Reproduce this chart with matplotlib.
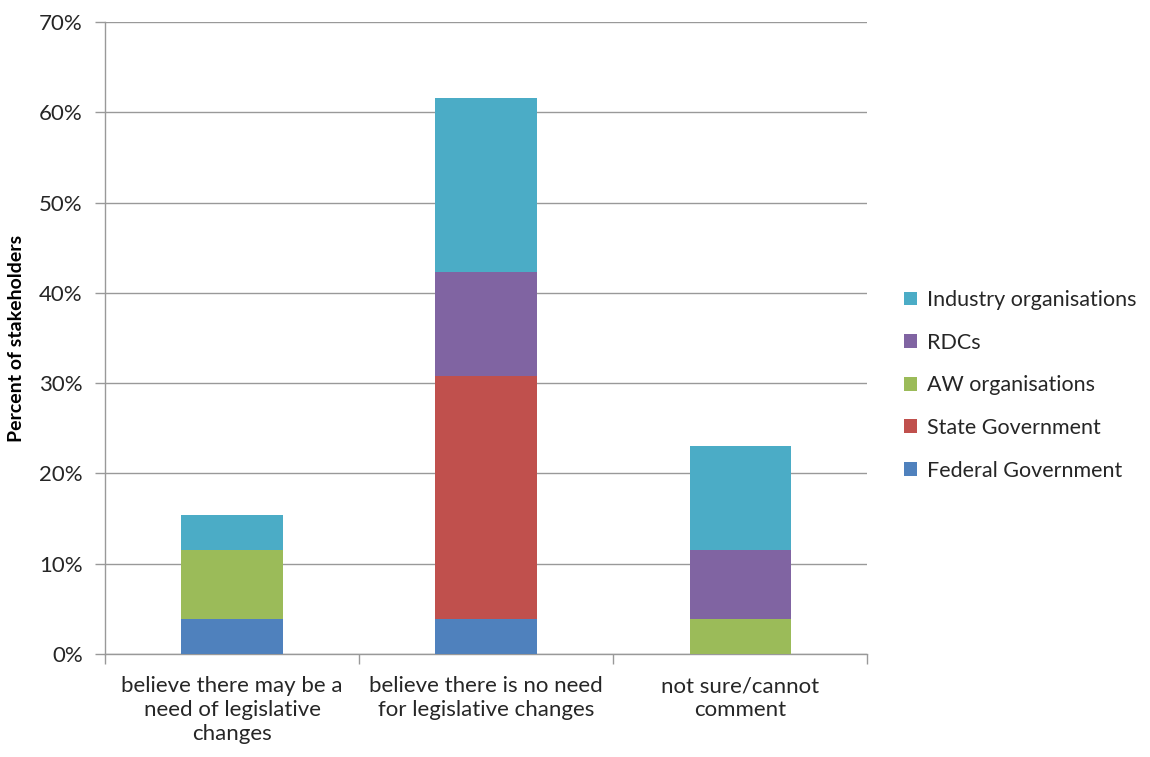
import numpy as np
import matplotlib
matplotlib.use("Agg")
import matplotlib.pyplot as plt
from matplotlib.ticker import FuncFormatter, FixedLocator

plt.rcParams['font.family'] = ['Lato', 'DejaVu Sans']

# data (share of 26 stakeholders, in %)
categories = ["believe there may be a\nneed of legislative\nchanges",
              "believe there is no need\nfor legislative changes",
              "not sure/cannot\ncomment"]
series_names = ["Federal Government", "State Government", "AW organisations",
                "RDCs", "Industry organisations"]
federal = [3.85, 3.85, 0.0]
state = [0.0, 26.92, 0.0]
aw_orgs = [7.69, 0.0, 3.85]
rdcs = [0.0, 11.54, 7.69]
industry = [3.85, 19.23, 11.54]
colors = ["#4F81BD", "#C0504D", "#9BBB59", "#8064A2", "#4BACC6"]

fig = plt.figure(figsize=(11.5, 7.57), dpi=100)
ax = fig.add_axes([0.0913, 0.136, 0.663, 0.835])

x = np.arange(len(categories))
bottom = np.zeros(len(categories))
handles = []
for name, vals, c in zip(series_names, [federal, state, aw_orgs, rdcs, industry], colors):
    b = ax.bar(x, vals, width=0.4, bottom=bottom, color=c, label=name, zorder=3)
    handles.append(b)
    bottom += np.array(vals)

ax.set_xlim(-0.5, 2.5)
ax.set_ylim(0, 70)
ax.set_yticks(np.arange(0, 71, 10))
ax.yaxis.set_major_formatter(FuncFormatter(lambda v, p: f"{v:.0f}%"))
ax.grid(axis='y', color='#999999', linewidth=1, zorder=0)

ax.set_xticks(x)
ax.set_xticklabels(categories, fontsize=16, color='#262626', linespacing=1.25)
ax.xaxis.set_minor_locator(FixedLocator([-0.5, 0.5, 1.5, 2.5]))
ax.tick_params(axis='x', which='major', length=0, pad=16)
ax.tick_params(axis='x', which='minor', length=7, color='#999999', width=1)
ax.tick_params(axis='y', length=7, color='#999999', width=1, labelsize=16,
               labelcolor='#262626', pad=9)

for s in ['top', 'right']:
    ax.spines[s].set_visible(False)
for s in ['left', 'bottom']:
    ax.spines[s].set_color('#999999')
    ax.spines[s].set_linewidth(1)

ax.set_ylabel("Percent of stakeholders", fontsize=14, fontweight='bold', labelpad=10)

leg = fig.legend(handles[::-1], series_names[::-1], loc='center left',
                 bbox_to_anchor=(0.769, 0.491), frameon=False, fontsize=15.5,
                 handlelength=0.6, handleheight=0.6, handletextpad=0.5,
                 labelspacing=1.05)
for t in leg.get_texts():
    t.set_color('#262626')

fig.savefig("out.png", dpi=100)
